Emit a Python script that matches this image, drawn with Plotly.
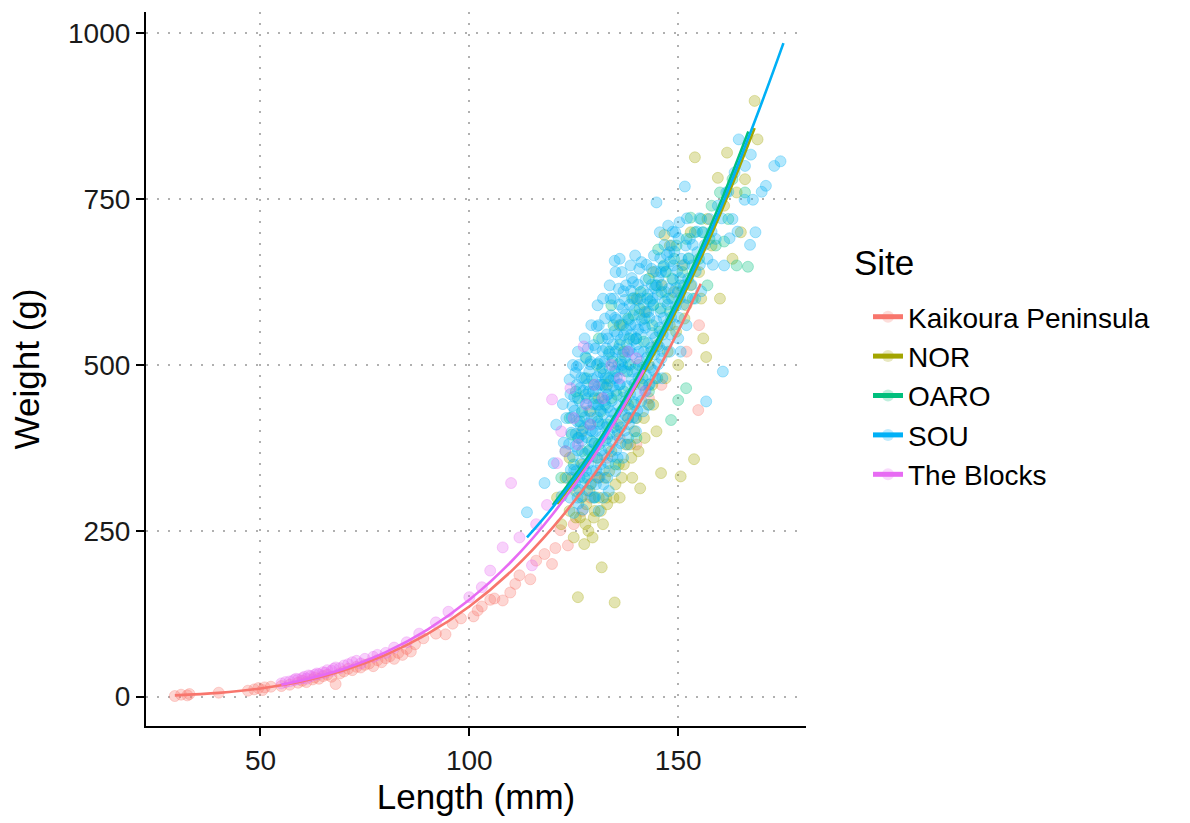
import plotly.graph_objects as go

sites = ["Kaikoura Peninsula", "NOR", "OARO", "SOU", "The Blocks"]
colors = ["#F8766D", "#A3A500", "#00BF7D", "#00B0F6", "#E76BF3"]

kaikoura_points = [
    (29.5, 1), (31, 3), (32.5, 2), (33, 4), (40, 6), (47, 9), (48.5, 11), (49.5, 13), (50.5, 10),
    (51, 14), (52.5, 15), (55, 16), (57, 18), (59, 21), (60, 24), (61, 22), (62.5, 26), (63, 29),
    (64, 27), (65, 31), (66, 33), (67, 30), (68, 19), (69, 35), (70, 38), (71, 42), (72, 40),
    (73, 45), (74, 44), (75, 48), (76, 50), (77, 46), (78, 55), (79, 52), (80, 58), (81, 61),
    (82, 57), (83, 66), (84, 63), (85, 72), (86, 68), (87, 79), (89, 88), (92, 95), (94.3, 94),
    (96, 110), (98, 118), (101, 121), (102, 130), (103, 136), (105, 146), (106, 148), (108, 145),
    (109.8, 157), (111, 170), (112, 183), (114.6, 177), (116, 205), (118, 215), (119.8, 200),
    (120.6, 224), (121.8, 251), (123.6, 228), (125, 260), (127, 280), (129, 300), (131, 330),
    (133, 360), (136, 390), (138, 420), (140, 380), (143, 450), (146, 470), (154.8, 432),
    (152, 520), (155, 560),
]

nor_points = [
    (121, 300), (122, 260), (123, 330), (124, 280), (125, 240), (125.5, 310), (126, 150),
    (126.5, 270), (127, 350), (127.5, 230), (128, 290), (128.5, 250), (129, 320), (129.5, 240),
    (130, 280), (130.5, 360), (131, 300), (131.7, 195), (132, 260), (132.5, 330), (133, 290),
    (134, 370), (134.8, 142), (135, 320), (135.5, 410), (136, 300), (137, 350), (138, 440),
    (138.5, 380), (139, 330), (140, 420), (140.9, 314), (141.5, 470), (142, 390), (143, 500),
    (144, 440), (145, 530), (145.9, 337), (146.7, 696), (147, 480), (148, 560), (149, 610),
    (150, 500), (150.6, 332), (151, 650), (152, 590), (153, 700), (153.8, 358), (154, 813),
    (155, 640), (156, 540), (156.7, 512), (157, 720), (158, 680), (159.5, 782), (160, 600),
    (161, 740), (161.7, 820), (163, 660), (164, 760), (165, 700), (166, 780), (168.3, 898),
    (169, 840), (129, 430), (133, 470), (137, 520), (142, 580), (146, 620),
    (124.5, 330), (125.5, 270), (126.8, 300), (127.8, 260), (128.8, 310), (129.8, 270),
    (130.8, 330), (131.5, 280), (132.8, 300), (133.5, 340), (134.5, 300), (135.8, 350),
    (136.5, 330), (137.5, 380), (138.8, 360), (139.5, 400), (140.5, 370), (141.8, 420),
    (142.8, 440), (143.8, 470), (144.8, 400), (147.5, 520), (149.5, 550), (151.5, 570),
    (153, 620), (155.5, 600), (124, 360), (127, 400), (131, 450), (136, 560), (140, 600),
    (144, 640), (148, 680),
]

oaro_points = [
    (122, 330), (123, 370), (124, 420), (125, 350), (125.5, 460), (126, 390), (127, 430),
    (127.5, 330), (128, 480), (128.5, 370), (129, 410), (130, 450), (130.5, 500), (131, 380),
    (131.5, 430), (132, 470), (133, 410), (133.5, 520), (134, 450), (134.5, 560), (135, 490),
    (135.5, 400), (136, 530), (137, 460), (138, 570), (138.5, 500), (139, 600), (139.5, 440),
    (140, 540), (141, 610), (141.5, 480), (142, 570), (143, 630), (143.5, 520), (144, 590),
    (145.2, 674), (145.5, 550), (146, 610), (147, 640), (148.3, 417), (148, 580), (149, 660),
    (150, 447), (150.5, 620), (151.9, 465), (152, 690), (153, 722), (153.5, 600), (155, 660),
    (156, 700), (157, 620), (158, 740), (159, 680), (161, 686), (162, 720), (163, 780),
    (164, 650), (166.7, 648), (166, 760), (130, 300), (135, 350), (140, 390), (145, 480),
    (124.5, 395), (126.5, 415), (127.8, 455), (129.3, 385), (129.8, 470), (130.8, 415),
    (131.8, 495), (132.5, 440), (133.3, 480), (134.2, 505), (135.3, 455), (136.3, 505),
    (136.8, 560), (137.8, 490), (138.3, 540), (139.3, 575), (140.5, 500), (140.8, 585),
    (141.8, 535), (142.6, 600), (143.8, 560), (144.6, 620), (145.8, 585), (146.6, 650),
    (147.6, 600), (148.6, 630), (149.6, 680), (151, 640), (152.5, 660), (154, 700),
    (155.5, 720), (157.5, 690), (160, 760), (127, 370), (133, 390), (138, 420), (143, 460),
    (126, 450), (128, 510), (131, 540), (134, 590),
]

sou_points = [
    (113.8, 278), (118, 322), (120.2, 352), (120.8, 410), (122.1, 302), (122.6, 383), (122.4, 441),
    (124.1, 300), (124.3, 342), (123.9, 381), (124.5, 421), (124.2, 456),
    (125.0, 277), (125.3, 322), (124.8, 362), (125.5, 396), (125.2, 431), (125.7, 470), (125.7, 497),
    (126.1, 291), (126.4, 331), (126.0, 371), (126.6, 409), (126.3, 446), (126.8, 481),
    (127.1, 302), (127.4, 346), (127.0, 386), (127.6, 421), (127.3, 461), (127.8, 512),
    (128.2, 311), (128.5, 352), (128.1, 391), (128.7, 431), (128.4, 471), (128.9, 501),
    (129.2, 321), (129.5, 362), (129.1, 401), (129.7, 441), (129.4, 479), (129.8, 530),
    (130.1, 301), (130.4, 341), (130.0, 382), (130.6, 421), (130.3, 462), (130.8, 502), (130.5, 558),
    (131.2, 331), (131.5, 371), (131.1, 411), (131.7, 451), (131.4, 489), (131.9, 521), (131.0, 560),
    (132.2, 342), (132.5, 386), (132.1, 426), (132.7, 466), (132.4, 505), (132.9, 546),
    (133.2, 352), (133.5, 396), (133.1, 436), (133.7, 476), (133.4, 516), (133.8, 600),
    (134.2, 362), (134.5, 406), (134.1, 446), (134.7, 491), (134.4, 531), (134.9, 571), (134.8, 657),
    (135.2, 372), (135.5, 416), (135.1, 461), (135.7, 501), (135.4, 546), (135.9, 591),
    (136.2, 382), (136.5, 431), (136.1, 471), (136.7, 516), (136.4, 561), (136.9, 611),
    (137.2, 401), (137.5, 446), (137.1, 491), (137.7, 531), (137.4, 576),
    (138.2, 411), (138.5, 456), (138.1, 501), (138.7, 546), (138.4, 591), (138.9, 631),
    (139.2, 421), (139.5, 471), (139.1, 516), (139.7, 561), (139.4, 601), (139.7, 665),
    (140.2, 431), (140.5, 481), (140.1, 531), (140.7, 576), (140.4, 621),
    (141.2, 446), (141.5, 496), (141.1, 546), (141.7, 591),
    (142.2, 461), (142.5, 511), (142.1, 556), (142.7, 606), (142.4, 651),
    (143.2, 471), (143.5, 526), (143.1, 571), (143.7, 621),
    (144.2, 491), (144.5, 541), (144.1, 591), (144.7, 641),
    (145.2, 501), (145.5, 556), (145.1, 606), (145.7, 661), (144.8, 745),
    (146.2, 521), (146.5, 571), (146.1, 621), (146.7, 681),
    (147.2, 531), (147.5, 591), (147.1, 641),
    (148.2, 546), (148.5, 601), (148.1, 656), (148.7, 701),
    (149.2, 561), (149.5, 616), (149.1, 671),
    (150.2, 571), (150.5, 631), (150.1, 691),
    (151.2, 591), (151.5, 651), (151.6, 769),
    (152.2, 601), (152.5, 661), (152.1, 721),
    (153.2, 621), (153.5, 681),
    (154.2, 641), (154.5, 701),
    (155.2, 651), (155.5, 611), (155.1, 721),
    (156.7, 445), (156.4, 681),
    (158.0, 701), (158.3, 651),
    (160.7, 490), (160.4, 721),
    (162.0, 761), (162.3, 691),
    (164.5, 840), (164.2, 701),
    (165.9, 749), (167.4, 817), (167.2, 681), (167.9, 749),
    (170.0, 761), (173.0, 800), (174.5, 807),
    (124.6, 318), (124.4, 398), (124.7, 438), (124.0, 478), (125.1, 342), (125.4, 378),
    (125.8, 415), (125.1, 452), (125.4, 488), (125.9, 300),
    (126.3, 312), (126.7, 352), (126.2, 390), (126.9, 428), (126.5, 465), (126.2, 500),
    (127.2, 322), (127.7, 366), (127.3, 404), (127.9, 442), (127.5, 480), (127.2, 282),
    (128.3, 330), (128.8, 372), (128.5, 412), (128.2, 450), (128.7, 490), (128.4, 525),
    (129.4, 340), (129.9, 382), (129.3, 420), (129.6, 460), (129.0, 505), (129.7, 300),
    (130.3, 320), (130.7, 360), (130.2, 400), (130.9, 440), (130.6, 482), (130.2, 525),
    (131.4, 350), (131.8, 392), (131.3, 432), (131.6, 470), (131.3, 505), (131.8, 540),
    (132.3, 364), (132.8, 406), (132.4, 446), (132.2, 486), (132.8, 525), (132.5, 570), (132.1, 320),
    (133.4, 374), (133.9, 416), (133.3, 456), (133.6, 496), (133.2, 540), (133.9, 575), (133.0, 330),
    (134.3, 384), (134.8, 426), (134.4, 468), (134.2, 511), (134.8, 551), (134.5, 600),
    (135.4, 394), (135.8, 438), (135.3, 481), (135.6, 524), (135.2, 568), (135.8, 615), (135.5, 360),
    (136.3, 406), (136.8, 451), (136.4, 494), (136.2, 538), (136.8, 585), (136.5, 640),
    (137.4, 424), (137.8, 468), (137.3, 511), (137.6, 553), (137.2, 598), (137.9, 380),
    (138.3, 434), (138.8, 478), (138.4, 523), (138.2, 568), (138.7, 612),
    (139.4, 444), (139.8, 494), (139.3, 538), (139.6, 583), (139.2, 625), (139.9, 400),
    (140.3, 455), (140.8, 505), (140.4, 553), (140.2, 598), (140.7, 645),
    (141.4, 470), (141.8, 520), (141.3, 568), (141.6, 612), (141.2, 655),
    (142.3, 485), (142.8, 533), (142.4, 580), (142.2, 628),
    (143.4, 496), (143.8, 548), (143.3, 596), (143.6, 645), (143.1, 440),
    (144.3, 516), (144.8, 566), (144.4, 616), (144.2, 665),
    (145.4, 528), (145.8, 580), (145.3, 632), (145.6, 700),
    (146.3, 546), (146.8, 596), (146.4, 648), (146.2, 480),
    (147.4, 561), (147.8, 615), (147.3, 666), (147.6, 710),
    (148.3, 572), (148.8, 628), (148.4, 680),
    (149.4, 588), (149.8, 642), (149.3, 700),
    (150.4, 600), (150.8, 660), (150.3, 715), (150.6, 520),
    (151.4, 620), (151.8, 680), (152.4, 630), (152.8, 690), (153.4, 650), (154.1, 600),
    (154.6, 670), (155.8, 700), (157.0, 660), (157.5, 720), (159.0, 690), (159.5, 740),
    (161.0, 650), (161.5, 760), (163.0, 720), (163.5, 790), (166.0, 800), (168.5, 700),
    (171.0, 770),
    (125.6, 340), (126.9, 395), (127.9, 340), (128.6, 460), (129.5, 400), (130.5, 440),
    (131.1, 470), (131.9, 410), (132.6, 480), (133.0, 455), (133.8, 430), (134.6, 480),
    (135.0, 520), (135.9, 470), (136.6, 500), (137.0, 545), (137.9, 520), (138.6, 560),
    (139.0, 490), (139.9, 540), (140.6, 520), (141.0, 600), (141.9, 560), (142.9, 580),
    (143.9, 600), (144.9, 620), (145.9, 640), (146.9, 610), (147.9, 670), (148.9, 650),
    (149.9, 610), (123.5, 330), (123.2, 420), (124.8, 500), (126.0, 520), (127.6, 540),
    (129.2, 560), (130.7, 590), (132.0, 600), (133.6, 620), (135.0, 640), (136.0, 660),
    (137.5, 620), (138.6, 650), (131.0, 280), (132.0, 300), (133.4, 310), (134.9, 340),
    (136.8, 360), (138.0, 390), (139.8, 420), (141.6, 430), (143.0, 470), (144.6, 480),
    (146.0, 510), (148.0, 520), (150.0, 540), (152.0, 560),
]

blocks_points = [
    (55, 20), (56, 22), (57, 23), (58, 25), (58.5, 27), (59, 26), (60, 28), (60.5, 30), (61, 27),
    (61.5, 32), (62, 31), (63, 33), (63.5, 35), (64, 34), (65, 37), (65.5, 36), (66, 40), (67, 39),
    (67.5, 42), (68, 44), (69, 43), (70, 47), (71, 49), (72, 52), (73, 54), (74, 50), (75, 57),
    (77, 60), (78, 63), (80, 66), (82, 74), (85, 82), (88, 95), (92, 112), (95, 128), (100, 150),
    (103, 165), (105, 190), (108, 225), (110, 322), (112, 240), (115, 198), (116, 260),
    (118.6, 289), (119.8, 448), (121, 352), (122, 400), (123, 370), (124.2, 465), (125, 420),
    (126, 380), (127.4, 528), (128, 440), (129, 410), (130, 470), (132, 450), (134, 500),
    (136, 480), (138, 520), (140, 510), (142, 460),
]

# fitted curves
kaikoura_fit_len = [29.5, 40, 50, 60, 70, 80, 90, 100, 110, 120, 130, 140, 150, 155.4]
kaikoura_fit_wt = [2.0, 5.8, 12.4, 23.3, 39.7, 63.0, 94.5, 136, 188.9, 255.1, 336.2, 434.2, 550.9, 622.5]
nor_fit_len = [121, 130, 140, 150, 160, 168.3]
nor_fit_wt = [290.6, 367.7, 469, 588, 726.5, 857]
oaro_fit_len = [120, 130, 140, 150, 160, 166.8]
oaro_fit_wt = [289, 376, 480, 601, 743, 852]
sou_fit_len = [113.8, 120, 130, 140, 150, 160, 170, 175.2]
sou_fit_wt = [240, 285.7, 371.4, 473.8, 593.8, 733.8, 895.2, 985]
blocks_fit_len = [55, 60, 70, 80, 90, 100, 110, 120, 130, 141.8]
blocks_fit_wt = [18.2, 24.7, 42.2, 67.1, 101.1, 146, 203.4, 275.4, 363.8, 492.2]

x_ticks = [50, 100, 150]
y_ticks = [0, 250, 500, 750, 1000]

points = [kaikoura_points, nor_points, oaro_points, sou_points, blocks_points]
fits = [(kaikoura_fit_len, kaikoura_fit_wt), (nor_fit_len, nor_fit_wt), (oaro_fit_len, oaro_fit_wt),
        (sou_fit_len, sou_fit_wt), (blocks_fit_len, blocks_fit_wt)]


def rgba(hexc, a):
    h = hexc.lstrip("#")
    return f"rgba({int(h[0:2],16)},{int(h[2:4],16)},{int(h[4:6],16)},{a})"


fig = go.Figure()
for name, col, pts in zip(sites, colors, points):
    fig.add_trace(go.Scatter(
        x=[p[0] for p in pts], y=[p[1] for p in pts], mode="markers", showlegend=False,
        legendgroup=name,
        marker=dict(size=11, color=rgba(col, 0.3), line=dict(color=rgba(col, 0.3), width=1)),
        hoverinfo="skip"))

for name, col, (fl, fw) in zip(sites, colors, fits):
    fig.add_trace(go.Scatter(
        x=fl, y=fw, mode="lines+markers", name=name, legendgroup=name,
        line=dict(color=col, width=2.6, shape="spline"),
        marker=dict(size=0.01, color=rgba(col, 0.25), line=dict(width=0))))

font_family = "Liberation Sans, Arial, Helvetica, sans-serif"
axis_common = dict(
    showline=True, linecolor="black", linewidth=2.2, mirror=False,
    ticks="outside", ticklen=8, tickwidth=2.2, tickcolor="black",
    tickfont=dict(size=28, color="#1a1a1a", family=font_family),
    showgrid=True, gridcolor="#b0b0b0", gridwidth=2.4, griddash="2.4px,8.6px",
    zeroline=False, automargin=False,
)

plot_w = 1190 - 146 - 384
plot_h = 823 - 12 - 97

fig.update_layout(
    width=1190, height=823,
    paper_bgcolor="white", plot_bgcolor="white",
    margin=dict(l=146, r=384, t=12, b=97),
    font=dict(family=font_family, color="black"),
    xaxis=dict(range=[22.6, 180.6], tickvals=x_ticks,
               title=dict(text="Length (mm)", font=dict(size=35), standoff=10), **axis_common),
    yaxis=dict(range=[-44.2, 1032], tickvals=y_ticks,
               title=dict(text="Weight (g)", font=dict(size=35), standoff=18), **axis_common),
    legend=dict(
        font=dict(size=28),
        x=868 / 1190, xref="container", xanchor="left",
        y=1 - 292 / 823, yref="container", yanchor="top",
        itemsizing="constant", itemwidth=30, tracegroupgap=0,
        bgcolor="rgba(0,0,0,0)",
    ),
    annotations=[dict(
        text="Site", x=(852 - 146) / plot_w, y=(823 - 97 - 262) / plot_h,
        xref="paper", yref="paper",
        xanchor="left", yanchor="middle", showarrow=False, font=dict(size=35),
    )],
)

fig.write_html("out.html")
